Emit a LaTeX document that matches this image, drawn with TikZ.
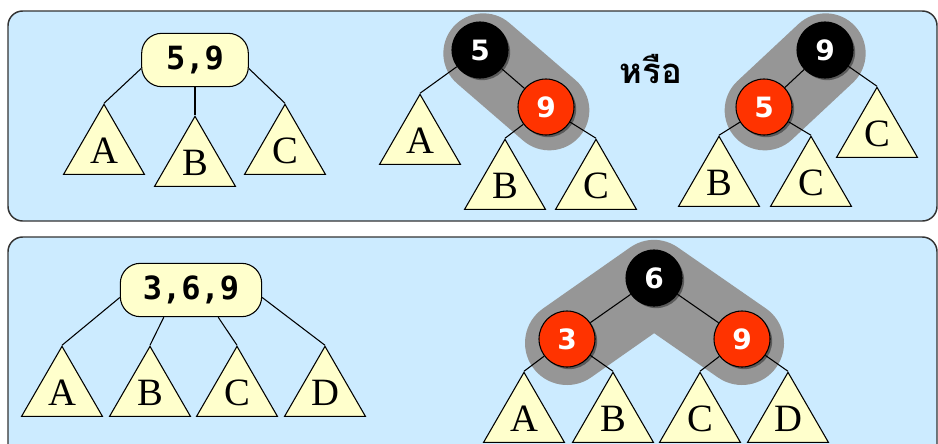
\documentclass[tikz,border=0pt]{standalone}
\usepackage{fontspec}
\setmainfont{Liberation Serif}
\newfontfamily\keyfont{DejaVu Sans Mono}
\newfontfamily\numfont{DejaVu Sans}
\newfontfamily\thaifont[Script=Thai]{Loma}
\usepackage{tikz}
\usetikzlibrary{shapes,shadows,positioning}

\definecolor{panelblue}{HTML}{CCEBFF}
\definecolor{leafyellow}{HTML}{FFFFCC}
\definecolor{nodered}{HTML}{FF3300}
\definecolor{bandgray}{HTML}{969696}
\definecolor{framegray}{HTML}{333333}

\begin{document}
\begin{tikzpicture}[x=0.75pt,y=-0.75pt,
  panel/.style={draw=framegray,line width=1.1pt,fill=panelblue,rounded corners=11pt},
  keybox/.style={draw,line width=0.8pt,fill=leafyellow,rounded corners=15pt,inner sep=0pt,
    minimum height=40pt,font=\keyfont\bfseries\fontsize{24}{24}\selectfont},
  subtree/.style={draw,line width=0.8pt,fill=leafyellow,regular polygon,regular polygon sides=3,
    inner sep=0pt,minimum size=70pt,font=\fontsize{29}{29}\selectfont},
  rb/.style={circle,draw,line width=0.8pt,minimum size=42pt,inner sep=0pt,text=white,
    font=\numfont\bfseries\fontsize{21}{21}\selectfont,
    drop shadow={shadow xshift=1.6pt,shadow yshift=-1.6pt,fill=black,opacity=0.4}},
  blk/.style={rb,fill=black},
  red/.style={rb,fill=nodered},
  band/.style={draw=bandgray,line width=60pt,line cap=round,line join=round},
  link/.style={draw,line width=0.8pt}]

\useasboundingbox (0,0) rectangle (938,443);
\clip (0,0) rectangle (938,443);

\draw[panel] (8,11) rectangle (937,221);
\draw[panel] (8,237) rectangle (937,480);

% 2-node and its red-black forms
\node[keybox,minimum width=80pt] (k59) at (195,60) {5,9};

\node[subtree] (tA1) at (104,151) {A};
\node[subtree] (tB1) at (195,163) {B};
\node[subtree] (tC1) at (285,151) {C};

\draw[link] (k59.189) -- (tA1.corner 1);
\draw[link] (k59.south) -- (tB1.corner 1);
\draw[link] (k59.351) -- (tC1.corner 1);

\coordinate (c5a) at (480,50);
\coordinate (c9a) at (546,107);
\draw[band] ([xshift=2.5pt,yshift=-2.5pt]c5a) -- ([xshift=2.5pt,yshift=-2.5pt]c9a);

\node[subtree] (tA2) at (420,141) {A};
\node[subtree] (tB2) at (505,186) {B};
\node[subtree] (tC2) at (596,186) {C};

\node[blk] (n5a) at (c5a) {5};
\node[red] (n9a) at (c9a) {9};

\draw[link] (n5a) -- (n9a);
\draw[link] (n5a) -- (tA2.corner 1);
\draw[link] (n9a) -- (tB2.corner 1);
\draw[link] (n9a) -- (tC2.corner 1);

\node[font=\thaifont\bfseries\fontsize{26}{26}\selectfont] (or) at (651,69) {หรือ};

\coordinate (c9b) at (825,50);
\coordinate (c5b) at (764,107);
\draw[band] ([xshift=0.5pt,yshift=-2.5pt]c9b) -- ([xshift=0.5pt,yshift=-2.5pt]c5b);

\node[subtree] (tC3) at (877,134) {C};
\node[subtree] (tB3) at (719,183) {B};
\node[subtree] (tC4) at (811,183) {C};

\node[blk] (n9b) at (c9b) {9};
\node[red] (n5b) at (c5b) {5};

\draw[link] (n9b) -- (n5b);
\draw[link] (n9b) -- (tC3.corner 1);
\draw[link] (n5b) -- (tB3.corner 1);
\draw[link] (n5b) -- (tC4.corner 1);

% 3-node and its red-black form
\node[keybox,minimum width=106pt] (k369) at (191,290) {3,6,9};

\node[subtree] (tA4) at (62,393) {A};
\node[subtree] (tB4) at (150,393) {B};
\node[subtree] (tC5) at (237,393) {C};
\node[subtree] (tD4) at (325,393) {D};

\draw[link] (k369.186) -- (tA4.corner 1);
\draw[link] (k369.225) -- (tB4.corner 1);
\draw[link] (k369.315) -- (tC5.corner 1);
\draw[link] (k369.354) -- (tD4.corner 1);

\coordinate (c6) at (654,278);
\coordinate (c3) at (567,339);
\coordinate (c9c) at (742,339);
\draw[band,line width=63pt] ([yshift=-3pt]c3) -- ([yshift=-3pt]c6) -- ([yshift=-3pt]c9c);

\node[subtree] (tA5) at (524,419) {A};
\node[subtree] (tB5) at (613,419) {B};
\node[subtree] (tC6) at (700,419) {C};
\node[subtree] (tD5) at (788,419) {D};

\node[blk] (n6) at (c6) {6};
\node[red] (n3) at (c3) {3};
\node[red] (n9c) at (c9c) {9};

\draw[link] (n6) -- (n3);
\draw[link] (n6) -- (n9c);
\draw[link] (n3) -- (tA5.corner 1);
\draw[link] (n3) -- (tB5.corner 1);
\draw[link] (n9c) -- (tC6.corner 1);
\draw[link] (n9c) -- (tD5.corner 1);

\end{tikzpicture}
\end{document}
